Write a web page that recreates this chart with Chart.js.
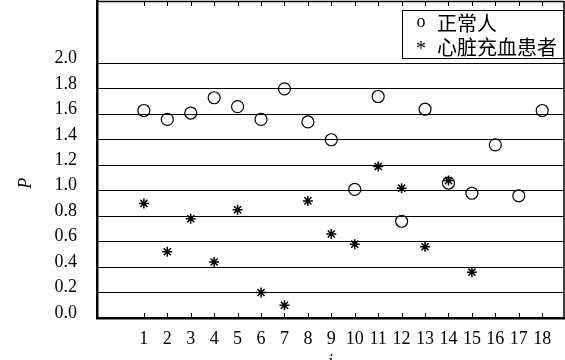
<!DOCTYPE html>
<html>
<head>
<meta charset="utf-8">
<script src="https://cdn.jsdelivr.net/npm/chart.js@4"></script>
<style>
  html, body { margin: 0; padding: 0; background: #fff; }
  #wrap { width: 565px; height: 360px; }
</style>
</head>
<body>
<div id="wrap"><canvas id="chartP"></canvas></div>
<script>
// subject index i
const subjects = [1, 2, 3, 4, 5, 6, 7, 8, 9, 10, 11, 12, 13, 14, 15, 16, 17, 18];
// P for normal people (o)
const normalP = [1.63, 1.56, 1.61, 1.73, 1.66, 1.56, 1.80, 1.54, 1.40, 1.01, 1.74, 0.76, 1.64, 1.06, 0.98, 1.36, 0.96, 1.63];
// P for heart failure patients (*), subjects 1..15
const patientP = [0.90, 0.52, 0.78, 0.44, 0.85, 0.20, 0.10, 0.92, 0.66, 0.58, 1.19, 1.02, 0.56, 1.08, 0.36];
const yTicks = [0.0, 0.2, 0.4, 0.6, 0.8, 1.0, 1.2, 1.4, 1.6, 1.8, 2.0];
const legendLabels = ["正常人", "心脏充血患者"];
const legendMarks = ["o", "*"];

const serif = "'Liberation Serif', 'DejaVu Serif', serif";
const cjk = "'Noto Sans CJK SC', sans-serif";

// frame, inward ticks, y title and text legend
const framePlugin = {
  id: "frame",
  afterDraw(chart) {
    const { ctx, chartArea: a, scales: { x } } = chart;
    ctx.save();
    ctx.strokeStyle = "#000";
    ctx.lineWidth = 1.5;
    ctx.beginPath();
    ctx.moveTo(a.left, a.top + 0.5);
    ctx.lineTo(a.right, a.top + 0.5);
    ctx.lineTo(a.right, a.bottom);
    ctx.stroke();

    ctx.lineWidth = 1;
    subjects.forEach(v => {
      const px = Math.round(x.getPixelForValue(v)) + 0.5;
      ctx.beginPath();
      ctx.moveTo(px, a.bottom);
      ctx.lineTo(px, a.bottom - 5);
      ctx.moveTo(px, a.top);
      ctx.lineTo(px, a.top + 5);
      ctx.stroke();
    });

    // y title, sits below the middle like in the original
    ctx.save();
    ctx.translate(26, a.top + (a.bottom - a.top) * 0.575);
    ctx.rotate(-Math.PI / 2);
    ctx.fillStyle = "#000";
    ctx.font = "italic 18px " + serif;
    ctx.textAlign = "center";
    ctx.textBaseline = "middle";
    ctx.fillText("P", 0, 0);
    ctx.restore();

    // legend box
    const bx = a.right - 162, by = a.top + 9, bw = 161, bh = 48;
    ctx.fillStyle = "#fff";
    ctx.fillRect(bx, by, bw, bh);
    ctx.strokeRect(bx + 0.5, by + 0.5, bw, bh);
    ctx.fillStyle = "#000";
    ctx.textBaseline = "middle";
    legendLabels.forEach((lbl, i) => {
      const ty = by + 13 + i * 24;
      ctx.textAlign = "center";
      ctx.font = (i === 0 ? "18px " : "20px ") + serif;
      ctx.fillText(legendMarks[i], bx + 19, ty + (i === 0 ? -1 : 3));
      ctx.textAlign = "left";
      ctx.font = "20px " + cjk;
      ctx.fillText(lbl, bx + 35, ty);
    });
    ctx.restore();
  }
};

const noPad = s => {
  s.paddingTop = 0; s.paddingBottom = 0; s.paddingLeft = 0; s.paddingRight = 0;
};

new Chart(document.getElementById("chartP"), {
  type: "scatter",
  data: {
    datasets: [
      {
        label: legendLabels[0],
        data: subjects.map((s, i) => ({ x: s, y: normalP[i] })),
        pointStyle: "circle",
        pointRadius: 6,
        borderColor: "#000",
        borderWidth: 1.2,
        backgroundColor: "rgba(255,255,255,0)"
      },
      {
        label: legendLabels[1],
        data: patientP.map((p, i) => ({ x: subjects[i], y: p })),
        pointStyle: "star",
        pointRadius: 5,
        borderColor: "#000",
        borderWidth: 1.5
      }
    ]
  },
  options: {
    responsive: true,
    maintainAspectRatio: false,
    animation: false,
    layout: { autoPadding: false, padding: { top: 1, right: 1, left: 0, bottom: 0 } },
    plugins: { legend: { display: false }, tooltip: { enabled: false } },
    scales: {
      x: {
        type: "linear",
        min: -1,
        max: 18.93,
        afterBuildTicks: s => { s.ticks = subjects.map(v => ({ value: v })); },
        afterFit: s => { s.height = 42; noPad(s); },
        grid: { display: false },
        border: { display: true, color: "#000", width: 2.5 },
        ticks: {
          color: "#000",
          font: { family: serif, size: 18 },
          padding: 2,
          maxRotation: 0,
          autoSkip: false,
          callback: v => String(v)
        },
        title: {
          display: true,
          text: "i",
          color: "#000",
          font: { family: serif, size: 18, style: "italic" },
          padding: { top: 0, bottom: -13 }
        }
      },
      y: {
        min: 0,
        max: 2.49,
        afterBuildTicks: s => { s.ticks = yTicks.map(v => ({ value: v })); },
        afterFit: s => { s.width = 97; noPad(s); },
        grid: { color: "#000", lineWidth: 1, drawTicks: false },
        border: { display: true, color: "#000", width: 2.5 },
        ticks: {
          color: "#000",
          font: { family: serif, size: 18 },
          padding: 20,
          labelOffset: -5,
          callback: v => v.toFixed(1)
        },
        title: { display: false }
      }
    }
  },
  plugins: [framePlugin]
});
</script>
</body>
</html>
